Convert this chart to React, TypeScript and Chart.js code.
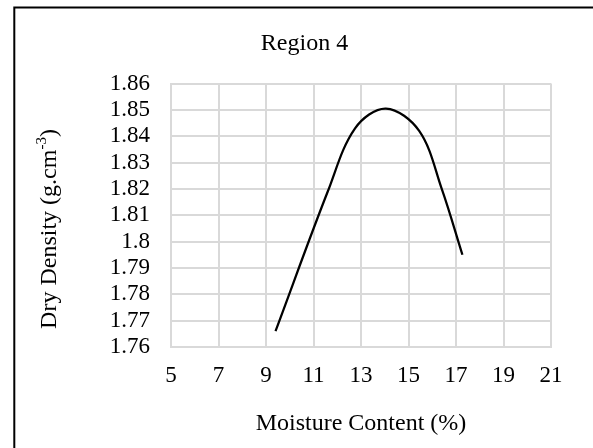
import React, { useEffect, useRef } from "react";
import { Chart, registerables } from "chart.js";

Chart.register(...registerables);

// ---- data ----
const moistureContent = [9.4, 11.6, 12.75, 14.05, 15.45, 16.4, 17.27];
const dryDensity = [1.766, 1.819, 1.843, 1.8505, 1.842, 1.82, 1.795];

const xMin = 5;
const xMax = 21;
const xStep = 2;
const yMin = 1.76;
const yMax = 1.86;
const yStep = 0.01;

const chartTitle = "Region 4";
const xAxisTitle = "Moisture Content (%)";
const yAxisTitleMain = "Dry Density (g.cm";
const yAxisTitleSup = "-3";
const yAxisTitleEnd = ")";

const FONT = "'Liberation Serif', 'Times New Roman', serif";

const decorPlugin = {
  id: "decor",
  afterDraw(chart: any) {
    const ctx = chart.ctx as CanvasRenderingContext2D;
    const area = chart.chartArea;
    ctx.save();
    // outer frame (left and top edges visible)
    ctx.strokeStyle = "#000";
    ctx.lineWidth = 2;
    ctx.beginPath();
    ctx.moveTo(14.3, 460);
    ctx.lineTo(14.3, 7.5);
    ctx.lineTo(620, 7.5);
    ctx.stroke();

    ctx.fillStyle = "#000";
    // title
    ctx.font = `24px ${FONT}`;
    ctx.textAlign = "center";
    ctx.textBaseline = "middle";
    ctx.fillText(chartTitle, 304.5, 44);

    // x axis title
    ctx.fillText(xAxisTitle, (area.left + area.right) / 2, 424);

    // y axis title with superscript
    ctx.translate(50, 229);
    ctx.rotate(-Math.PI / 2);
    const mainFont = `24px ${FONT}`;
    const supFont = `15px ${FONT}`;
    ctx.font = mainFont;
    const w1 = ctx.measureText(yAxisTitleMain).width;
    const w3 = ctx.measureText(yAxisTitleEnd).width;
    ctx.font = supFont;
    const w2 = ctx.measureText(yAxisTitleSup).width;
    const total = w1 + w2 + w3;
    let x = -total / 2;
    ctx.textAlign = "left";
    ctx.font = mainFont;
    ctx.fillText(yAxisTitleMain, x, 0);
    x += w1;
    ctx.font = supFont;
    ctx.fillText(yAxisTitleSup, x, -8);
    x += w2;
    ctx.font = mainFont;
    ctx.fillText(yAxisTitleEnd, x, 0);
    ctx.restore();
  },
};

export default function App() {
  const canvasRef = useRef<HTMLCanvasElement | null>(null);

  useEffect(() => {
    if (!canvasRef.current) return;
    const points = moistureContent.map((x, i) => ({ x, y: dryDensity[i] }));
    const chart = new Chart(canvasRef.current, {
      type: "scatter",
      data: {
        datasets: [
          {
            data: points,
            showLine: true,
            borderColor: "#000",
            borderWidth: 2.25,
            pointRadius: 0,
            pointHoverRadius: 0,
            tension: 0.35,
            fill: false,
          },
        ],
      },
      options: {
        responsive: false,
        animation: false,
        devicePixelRatio: 1,
        layout: { padding: { top: 83.5, right: 42, left: 0, bottom: 0 } },
        plugins: {
          legend: { display: false },
          title: { display: false },
          tooltip: { enabled: false },
        },
        scales: {
          x: {
            type: "linear",
            min: xMin,
            max: xMax,
            ticks: {
              stepSize: xStep,
              autoSkip: false,
              padding: 15,
              color: "#000",
              font: { family: FONT, size: 23 },
            },
            grid: { color: "#d9d9d9", lineWidth: 2, drawTicks: false },
            border: { display: true, color: "#d9d9d9", width: 2 },
            afterFit: (scale: any) => {
              scale.height = 448 - 347;
            },
          },
          y: {
            type: "linear",
            min: yMin,
            max: yMax,
            ticks: {
              stepSize: yStep,
              autoSkip: false,
              padding: 21,
              color: "#000",
              font: { family: FONT, size: 23 },
              callback: (v: any) => String(Math.round(Number(v) * 100) / 100),
            },
            grid: { color: "#d9d9d9", lineWidth: 2, drawTicks: false },
            border: { display: true, color: "#d9d9d9", width: 2 },
            afterFit: (scale: any) => {
              scale.width = 171;
            },
          },
        },
      },
      plugins: [decorPlugin],
    });
    return () => chart.destroy();
  }, []);

  return (
    <div style={{ position: "absolute", left: 0, top: 0, width: 593, height: 448, background: "#fff" }}>
      <canvas ref={canvasRef} width={593} height={448} style={{ display: "block" }} />
    </div>
  );
}
